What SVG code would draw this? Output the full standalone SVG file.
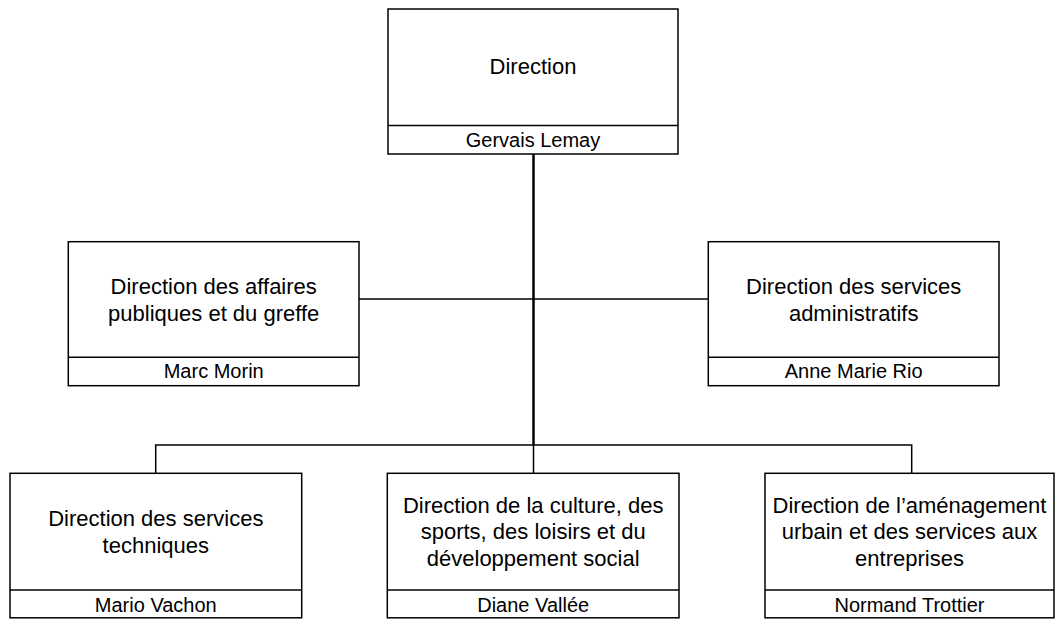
<svg xmlns="http://www.w3.org/2000/svg" width="1061" height="619" viewBox="0 0 1061 619">
<style>
.box{fill:#fff;stroke:#000;stroke-width:1.5}
.div{stroke:#000;stroke-width:1.5}
.t{font-family:"Liberation Sans",Arial,sans-serif;font-size:22px;fill:#000;text-anchor:middle}
.s{font-family:"Liberation Sans",Arial,sans-serif;font-size:20px;fill:#000;text-anchor:middle}
.c{stroke:#000;fill:none;stroke-width:1.5}
.trunk{stroke:#000;fill:none;stroke-width:2.5}
</style>
<rect width="1061" height="619" fill="#fff"/>
<g id="connectors">
<line class="trunk" x1="533.5" y1="154" x2="533.5" y2="445"/>
<line class="c" x1="359" y1="299" x2="708" y2="299"/>
<polyline class="c" points="155.7,473 155.7,445 911.7,445 911.7,473"/>
<line class="c" x1="533.5" y1="445" x2="533.5" y2="473"/>
</g>
<g id="n-direction">
<rect class="box" x="388" y="9" width="290" height="145"/>
<line class="div" x1="388" y1="125.5" x2="678" y2="125.5"/>
<text class="t" x="533" y="74">Direction</text>
<text class="s" x="533" y="147">Gervais Lemay</text>
</g>
<g id="n-affaires">
<rect class="box" x="68.3" y="241.7" width="290.7" height="144"/>
<line class="div" x1="68.3" y1="357.3" x2="359" y2="357.3"/>
<text class="t" x="213.7" y="293.5">Direction des affaires</text>
<text class="t" x="213.7" y="320.5">publiques et du greffe</text>
<text class="s" x="213.7" y="377.7">Marc Morin</text>
</g>
<g id="n-admin">
<rect class="box" x="708.3" y="241.7" width="290.7" height="144"/>
<line class="div" x1="708.3" y1="357.3" x2="999" y2="357.3"/>
<text class="t" x="853.7" y="293.5">Direction des services</text>
<text class="t" x="853.7" y="320.5">administratifs</text>
<text class="s" x="853.7" y="377.7">Anne Marie Rio</text>
</g>
<g id="n-techniques">
<rect class="box" x="10" y="473.3" width="291.7" height="144.5"/>
<line class="div" x1="10" y1="590" x2="301.7" y2="590"/>
<text class="t" x="155.8" y="526">Direction des services</text>
<text class="t" x="155.8" y="552.7">techniques</text>
<text class="s" x="155.8" y="611.7">Mario Vachon</text>
</g>
<g id="n-culture">
<rect class="box" x="387.3" y="473.3" width="291.7" height="144.5"/>
<line class="div" x1="387.3" y1="590" x2="679" y2="590"/>
<text class="t" x="533.2" y="512.7">Direction de la culture, des</text>
<text class="t" x="533.2" y="539.3">sports, des loisirs et du</text>
<text class="t" x="533.2" y="566">développement social</text>
<text class="s" x="533.2" y="611.7">Diane Vallée</text>
</g>
<g id="n-amenagement">
<rect class="box" x="765" y="473.3" width="289" height="144.5"/>
<line class="div" x1="765" y1="590" x2="1054" y2="590"/>
<text class="t" x="909.5" y="512.7">Direction de l’aménagement</text>
<text class="t" x="909.5" y="539.3">urbain et des services aux</text>
<text class="t" x="909.5" y="566">entreprises</text>
<text class="s" x="909.5" y="611.7">Normand Trottier</text>
</g>
</svg>
